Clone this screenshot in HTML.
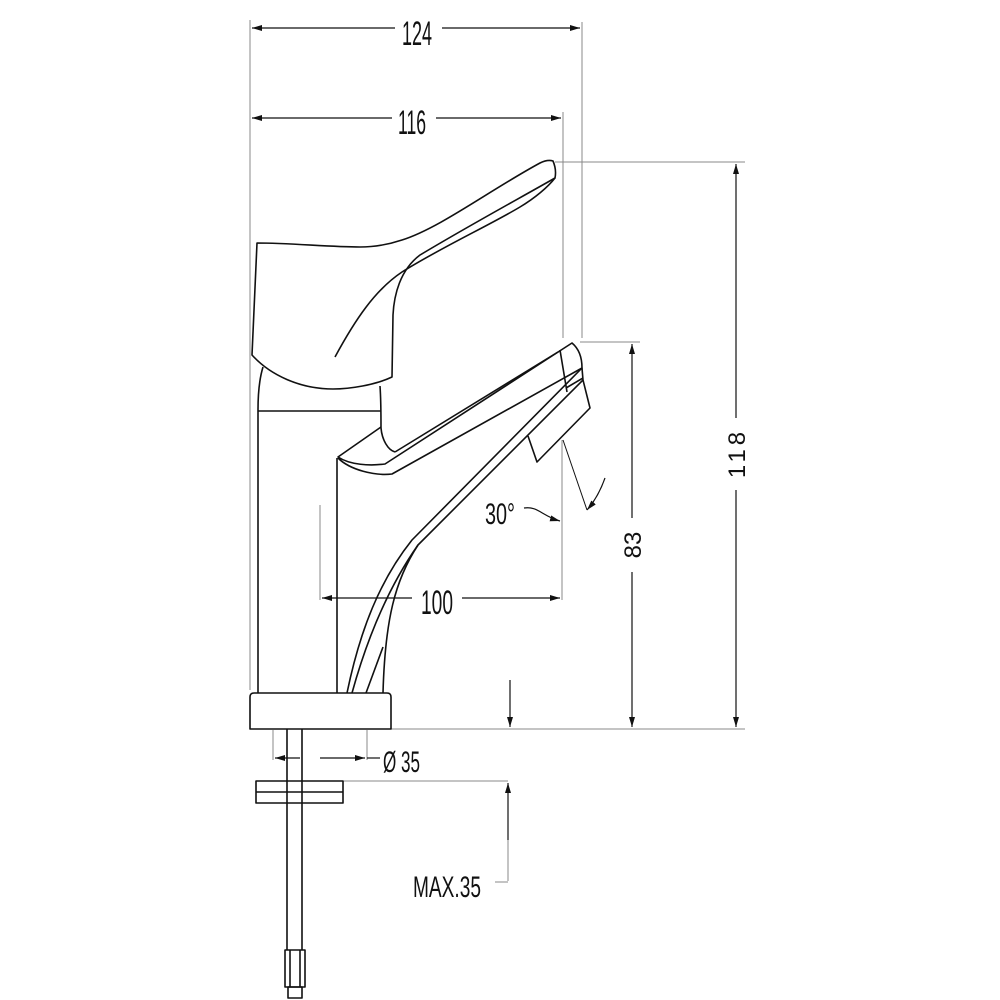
<!DOCTYPE html>
<html><head><meta charset="utf-8"><style>html,body{margin:0;padding:0;background:#fff}svg{display:block}text{font-family:"Liberation Sans",sans-serif;fill:#111}</style></head><body>
<svg width="1000" height="1000" viewBox="0 0 1000 1000" xmlns="http://www.w3.org/2000/svg">
<defs>
<marker id="a" viewBox="0 0 10 6" refX="10" refY="3" markerWidth="10" markerHeight="6" markerUnits="userSpaceOnUse" orient="auto-start-reverse"><path d="M0,0 L10,3 L0,6 z" fill="#111"/></marker>
</defs>
<g fill="none" stroke="#888" stroke-width="1">
<line x1="250" y1="20" x2="250" y2="690"/>
<line x1="582" y1="22" x2="582" y2="338"/>
<line x1="563" y1="112" x2="563" y2="338"/>
<line x1="562" y1="440" x2="562" y2="600"/>
<line x1="320" y1="505" x2="320" y2="600"/>
<line x1="555" y1="162" x2="745" y2="162"/>
<line x1="580" y1="342" x2="640" y2="342"/>
<line x1="391" y1="729" x2="745" y2="729"/>
<line x1="273" y1="730" x2="273" y2="760"/>
<line x1="367" y1="730" x2="367" y2="760"/>
<line x1="343" y1="781" x2="508" y2="781"/>
<line x1="495" y1="882" x2="508" y2="882"/>
<line x1="508" y1="881" x2="508" y2="830"/>
</g>
<g fill="none" stroke="#111" stroke-width="1.2">
<line x1="395" y1="28" x2="252" y2="28" marker-end="url(#a)"/>
<line x1="442" y1="28" x2="580" y2="28" marker-end="url(#a)"/>
<line x1="392" y1="118" x2="252" y2="118" marker-end="url(#a)"/>
<line x1="436" y1="118" x2="561" y2="118" marker-end="url(#a)"/>
<line x1="736" y1="418" x2="736" y2="164" marker-end="url(#a)"/>
<line x1="736" y1="490" x2="736" y2="727" marker-end="url(#a)"/>
<line x1="632" y1="518" x2="632" y2="344" marker-end="url(#a)"/>
<line x1="632" y1="572" x2="632" y2="727" marker-end="url(#a)"/>
<line x1="412" y1="598" x2="322" y2="598" marker-end="url(#a)"/>
<line x1="462" y1="598" x2="560" y2="598" marker-end="url(#a)"/>
<line x1="510" y1="680" x2="510" y2="727" marker-end="url(#a)"/>
<line x1="508" y1="840" x2="508" y2="783" marker-end="url(#a)"/>
<line x1="300" y1="758" x2="275" y2="758" marker-end="url(#a)"/>
<line x1="320" y1="758" x2="365" y2="758" marker-end="url(#a)"/>
<line x1="367" y1="758" x2="380" y2="758"/>
<path d="M524,508 C538,506 542,516 560,521" marker-end="url(#a)"/>
<path d="M605,478 C600,492 594,502 587,510" marker-end="url(#a)"/>
<line x1="563" y1="440" x2="587" y2="510" stroke-width="1"/>
</g>
<g fill="none" stroke="#111" stroke-width="1.6" stroke-linejoin="round">
<path d="M257,243 C290,243 330,247 360,247 C375,247 390,244 402,240 C440,228 490,190 540,163 C546,160 550,160 553,161 C556,168 556,173 555,178 C520,198 470,225 420,255 C400,270 394,295 393,315 L392,377 C375,385 350,389 333,389 C300,389 270,375 252,355 Z"/>
<path d="M335,357 C355,320 375,290 402,272 C440,248 490,225 520,207 C535,198 548,187 555,178"/>
<path d="M263,367 C259,380 258,395 258,410 L258,693"/>
<line x1="258" y1="411" x2="381" y2="411"/>
<path d="M380,386 C381,400 381,415 381,428 C382,440 388,450 395,452"/>
<line x1="337" y1="458" x2="337" y2="693"/>
<path d="M381,427 L338,457 C350,465 370,466 385,464 L572,343 C578,348 582,356 582,368 L392,474 C375,476 350,470 338,458"/>
<line x1="395" y1="452" x2="558" y2="352"/>
<line x1="560" y1="350" x2="567" y2="392"/>
<path d="M582,368 L583,380 L590,408 L537,462 L528,436"/>
<line x1="583" y1="378" x2="566" y2="388"/>
<path d="M582,368 L412,540 C380,580 360,630 347,693"/>
<path d="M583,380 L418,545 C390,585 368,635 352,693"/>
<path d="M418,545 C395,580 385,620 383,693"/>
<line x1="383" y1="647" x2="366" y2="693"/>
<path d="M250,729 L250,697 Q250,693 254,693 L387,693 Q391,693 391,697 L391,729 Z"/>
<line x1="287" y1="729" x2="287" y2="950"/>
<line x1="302" y1="729" x2="302" y2="950"/>
<rect x="256" y="781" width="87" height="22"/>
<line x1="256" y1="792" x2="343" y2="792"/>
<rect x="285" y="950" width="20" height="37"/>
<line x1="290" y1="950" x2="290" y2="987"/>
<line x1="300" y1="950" x2="300" y2="987"/>
<rect x="288" y="987" width="14" height="11"/>
</g>
<g font-size="34">
<text x="417" y="45" text-anchor="middle" textLength="30" lengthAdjust="spacingAndGlyphs">124</text>
<text x="412" y="134" text-anchor="middle" textLength="28" lengthAdjust="spacingAndGlyphs">116</text>
<text x="437" y="614" text-anchor="middle" textLength="32" lengthAdjust="spacingAndGlyphs">100</text>
<text x="500" y="524" text-anchor="middle" textLength="30" lengthAdjust="spacingAndGlyphs" font-size="30">30°</text>
<text x="383" y="772" textLength="37" lengthAdjust="spacingAndGlyphs" font-size="30">Ø 35</text>
<text x="413" y="897" textLength="68" lengthAdjust="spacingAndGlyphs" font-size="30">MAX.35</text>
<text transform="translate(745,453) rotate(-90)" text-anchor="middle" font-size="24" letter-spacing="4">118</text>
<text transform="translate(641,545) rotate(-90)" text-anchor="middle" font-size="24">83</text>
</g>
</svg>
</body></html>
